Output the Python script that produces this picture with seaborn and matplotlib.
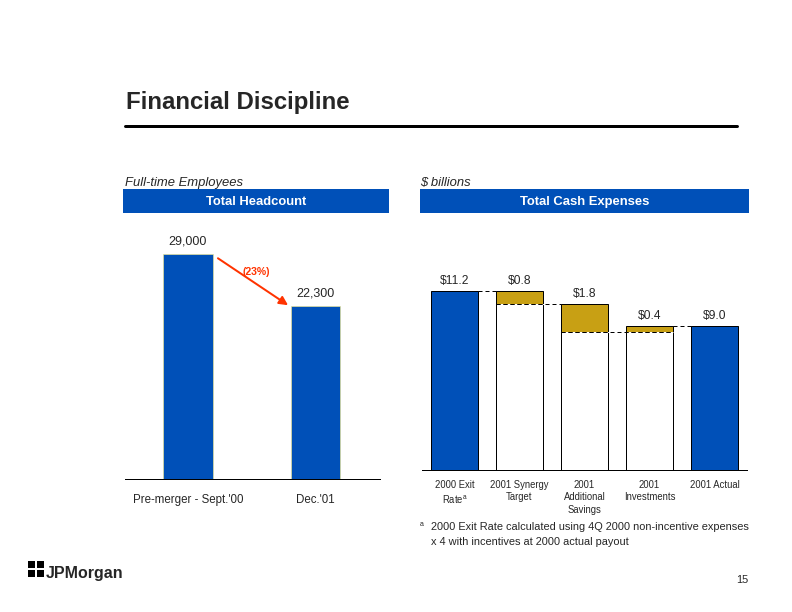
import numpy as np
import pandas as pd
import matplotlib
matplotlib.use('Agg')
import matplotlib.pyplot as plt
import seaborn as sns
from matplotlib.patches import Rectangle

# headcount data
hc_labels = ["Pre-merger - Sept.'00", "Dec.'01"]
hc_values = [29000, 22300]
hc_text = ["29,000", "22,300"]
hc_change = "(23%)"

# cash expenses waterfall ($ billions)
ce_labels = ["2000 Exit\nRate$^{\\mathregular{a}}$", "2001 Synergy\nTarget",
             "2001\nAdditional\nSavings", "2001\nInvestments", "2001 Actual"]
exit_rate = 11.2
synergy = 0.8
add_savings = 1.8
investments = 0.4
actual = 9.0

BLUE = "#0050B8"
GOLD = "#C8A014"
W, H = 792, 612


def fx(px):
    return px / W


def fy(py):
    return 1 - py / H


sns.set_theme(style="white")
plt.rcParams['font.family'] = ['Liberation Sans', 'DejaVu Sans']

fig = plt.figure(figsize=(11, 8.5), dpi=72)

# title + rule
fig.text(fx(126), fy(102), "Financial Discipline", fontsize=24, fontweight='bold',
         va='center', ha='left')
fig.add_artist(plt.Line2D([fx(125), fx(737)], [fy(126), fy(126)], color='black', lw=3))

# panel headers
fig.text(fx(125), fy(183), "Full-time Employees", fontsize=13, style='italic', va='center')
fig.text(fx(420), fy(183), "$ billions", fontsize=13, style='italic', va='center')
for x0, x1, label in [(123, 389, "Total Headcount"), (420, 749, "Total Cash Expenses")]:
    fig.add_artist(Rectangle((fx(x0), fy(213)), fx(x1 - x0), (213 - 189) / H,
                             facecolor=BLUE, edgecolor='none'))
    fig.text(fx((x0 + x1) / 2), fy(202.5), label, color='white', fontsize=13,
             fontweight='bold', ha='center', va='center')

# ---- left: headcount
ax1 = fig.add_axes([fx(125), fy(479), fx(255), 249 / H])
hc_df = pd.DataFrame({"period": hc_labels, "count": hc_values})
sns.barplot(data=hc_df, x="period", y="count", color=BLUE, saturation=1,
            width=0.39, edgecolor='#F0E890', linewidth=0.6, ax=ax1)
ax1.set_xlim(-0.494, 1.506)
ax1.set_ylim(0, 249 * hc_values[0] / 225)
for i, (v, t) in enumerate(zip(hc_values, hc_text)):
    ax1.text(i, v + 800, t, ha='center', va='bottom', fontsize=12.5)
ax1.annotate("", xy=(1 - 0.39 / 2 - 0.02, hc_values[1] + 100), xytext=(0.235, 28450),
             arrowprops=dict(arrowstyle='-|>', color='#FF3300', lw=2, mutation_scale=18,
                             shrinkA=0, shrinkB=0))
ax1.text(0.43, 26700, hc_change, color='#FF3300', fontsize=10.5, fontweight='bold',
         ha='left', va='center')
ax1.set_xlabel("")
ax1.set_ylabel("")
ax1.set_yticks([])
ax1.tick_params(axis='x', length=0, labelsize=11.5, pad=15)
for s in ['top', 'left', 'right']:
    ax1.spines[s].set_visible(False)
ax1.spines['bottom'].set_color('black')
ax1.spines['bottom'].set_linewidth(1)

# ---- right: waterfall
after_syn = exit_rate - synergy
after_sav = after_syn - add_savings
after_inv = after_sav + investments
tops = [exit_rate, exit_rate, after_syn, after_inv, actual]
bases = [0, after_syn, after_sav, after_sav, 0]
steps = [exit_rate, synergy, add_savings, investments, actual]

ax2 = fig.add_axes([fx(422), fy(470), fx(325), 240 / H])
wf = pd.DataFrame({"item": ce_labels, "top": tops, "base": bases})
sns.barplot(data=wf, x="item", y="top", hue="item", legend=False, saturation=1,
            palette=[BLUE, GOLD, GOLD, GOLD, BLUE], width=0.72,
            edgecolor='black', linewidth=1, ax=ax2)
sns.barplot(data=wf, x="item", y="base", color='white', saturation=1, width=0.72,
            edgecolor='black', linewidth=1, ax=ax2)
ax2.set_xlim(-0.5, 4.5)
ax2.set_ylim(0, 15)
hw = 0.36
dash = dict(color='black', lw=1, ls=(0, (4, 3)), gapcolor='white', zorder=5)
ax2.plot([0 + hw, 1 - hw], [exit_rate] * 2, **dash)
ax2.plot([1 - hw, 2 - hw], [after_syn] * 2, **dash)
ax2.plot([2 - hw, 3 + hw], [after_sav] * 2, **dash)
ax2.plot([3 + hw, 4 - hw], [after_inv] * 2, **dash)
for i, (t, s) in enumerate(zip(tops, steps)):
    ax2.text(i, t + 0.25, f"${s:.1f}", ha='center', va='bottom', fontsize=12)
ax2.set_xlabel("")
ax2.set_ylabel("")
ax2.set_yticks([])
ax2.tick_params(axis='x', length=0, labelsize=9.5, pad=10)
for lab in ax2.get_xticklabels():
    lab.set_va('top')
    lab.set_linespacing(1.3)
for s in ['top', 'left', 'right']:
    ax2.spines[s].set_visible(False)
ax2.spines['bottom'].set_color('black')
ax2.spines['bottom'].set_linewidth(1)

# footnote
fig.text(fx(420), fy(524), "a", fontsize=7, va='center')
fig.text(fx(431), fy(527), "2000 Exit Rate calculated using 4Q 2000 non-incentive expenses",
         fontsize=11, va='center')
fig.text(fx(431), fy(542), "x 4 with incentives at 2000 actual payout", fontsize=11, va='center')

# logo + page number
lx, ly = 28, 561
for dx, dy in [(0, 0), (9, 0), (0, 9), (9, 9)]:
    fig.add_artist(Rectangle((fx(lx + dx), fy(ly + dy + 7)), fx(7), 7 / H,
                             facecolor='black', edgecolor='none'))
fig.text(fx(46), fy(578), "JPMorgan", fontsize=16, fontweight='bold', va='baseline')
fig.text(fx(748), fy(580), "15", fontsize=11, ha='right', va='center')

fig.savefig("out.png", dpi=72)
plt.close(fig)
